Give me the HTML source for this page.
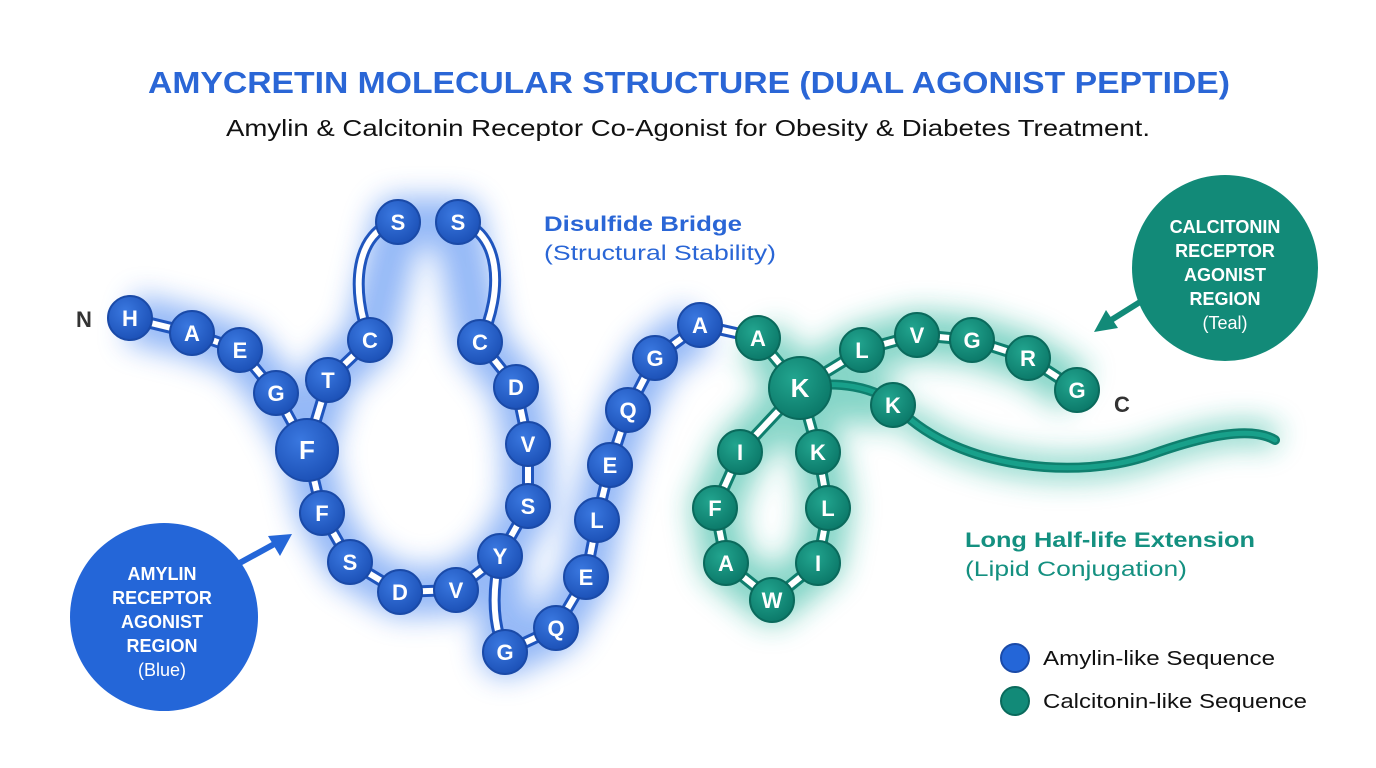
<!DOCTYPE html>
<html><head><meta charset="utf-8"><style>
html,body{margin:0;padding:0;background:#fff;width:1376px;height:768px;overflow:hidden}
svg{display:block}
</style></head><body>
<svg width="1376" height="768" viewBox="0 0 1376 768" font-family="Liberation Sans, sans-serif">
<defs>
<filter id="gb" x="-50%" y="-50%" width="200%" height="200%"><feGaussianBlur stdDeviation="14"/></filter>
<radialGradient id="bb" cx="40%" cy="35%" r="65%"><stop offset="0" stop-color="#3a78e0"/><stop offset="1" stop-color="#1d52b8"/></radialGradient>
<radialGradient id="tb" cx="40%" cy="35%" r="65%"><stop offset="0" stop-color="#22a58f"/><stop offset="1" stop-color="#0c7a6a"/></radialGradient>
</defs>
<text x="148" y="93" textLength="1082" lengthAdjust="spacingAndGlyphs" font-size="31" font-weight="bold" fill="#2a66d6">AMYCRETIN MOLECULAR STRUCTURE (DUAL AGONIST PEPTIDE)</text>
<text x="226" y="136" textLength="924" lengthAdjust="spacingAndGlyphs" font-size="23" fill="#111">Amylin &amp; Calcitonin Receptor Co-Agonist for Obesity &amp; Diabetes Treatment.</text>

<!-- glow -->
<g filter="url(#gb)" opacity="0.55">
<path d="M130,318 L192,333 L240,350 L276,393 L307,450 L322,513 L350,562 L400,592 L456,590 L500,556 L528,506 L528,444 L516,387 L480,342 L458,222 L398,222 L370,340 L328,380 L307,450 M500,556 L505,652 L556,628 L586,577 L597,520 L610,465 L628,410 L655,358 L700,325" stroke="#3d7ff0" stroke-width="50" fill="none" stroke-linejoin="round"/>
<path d="M758,338 L800,388 L740,452 L715,508 L726,563 L772,600 L818,563 L828,508 L818,452 L800,388 L862,350 L917,335 L972,340 L1028,358 L1077,390 M800,388 L893,405" stroke="#22b39a" stroke-width="50" fill="none" stroke-linejoin="round"/>
<path d="M900,410 C960,470 1080,480 1150,455 C1200,437 1250,425 1275,440" stroke="#22b39a" stroke-width="25" fill="none"/>
</g>

<!-- bonds -->
<g fill="none" stroke-linecap="round">
<g stroke="#1f55bd" stroke-width="12">
<path d="M130,318 L192,333 L240,350 L276,393 L307,450 L322,513 L350,562 L400,592 L456,590 L500,556 L528,506 L528,444 L516,387 L480,342"/>
<path d="M307,450 L328,380 L370,340 C350,290 355,230 398,222 M458,222 C500,230 505,290 480,342"/>
<path d="M500,556 C490,600 495,630 505,652 L556,628 L586,577 L597,520 L610,465 L628,410 L655,358 L700,325 L758,338"/>
</g>
<g stroke="#0f7f6e" stroke-width="12">
<path d="M758,338 L800,388 L740,452 L715,508 L726,563 L772,600 L818,563 L828,508 L818,452 L800,388 L862,350 L917,335 L972,340 L1028,358 L1077,390"/>
<path d="M800,388 C830,380 880,385 900,410 C960,470 1080,480 1150,455 C1200,437 1250,425 1275,440" stroke-width="10"/>
</g>
<g stroke="#fff" stroke-width="6">
<path d="M130,318 L192,333 L240,350 L276,393 L307,450 L322,513 L350,562 L400,592 L456,590 L500,556 L528,506 L528,444 L516,387 L480,342"/>
<path d="M307,450 L328,380 L370,340 C350,290 355,230 398,222 M458,222 C500,230 505,290 480,342"/>
<path d="M500,556 C490,600 495,630 505,652 L556,628 L586,577 L597,520 L610,465 L628,410 L655,358 L700,325 L758,338"/>
<path d="M758,338 L800,388 L740,452 L715,508 L726,563 L772,600 L818,563 L828,508 L818,452 L800,388 L862,350 L917,335 L972,340 L1028,358 L1077,390"/>
</g>
<path d="M800,388 C830,380 880,385 900,410 C960,470 1080,480 1150,455 C1200,437 1250,425 1275,440" stroke="#18a08a" stroke-width="5"/>
</g>

<!-- beads -->
<g font-size="22" font-weight="bold" fill="#fff" text-anchor="middle" stroke-width="2">
<g stroke="#1a4aa8">
<circle cx="130" cy="318" r="22" fill="url(#bb)"/><circle cx="192" cy="333" r="22" fill="url(#bb)"/>
<circle cx="240" cy="350" r="22" fill="url(#bb)"/><circle cx="276" cy="393" r="22" fill="url(#bb)"/>
<circle cx="307" cy="450" r="31" fill="url(#bb)"/><circle cx="328" cy="380" r="22" fill="url(#bb)"/>
<circle cx="370" cy="340" r="22" fill="url(#bb)"/><circle cx="398" cy="222" r="22" fill="url(#bb)"/>
<circle cx="458" cy="222" r="22" fill="url(#bb)"/><circle cx="480" cy="342" r="22" fill="url(#bb)"/>
<circle cx="516" cy="387" r="22" fill="url(#bb)"/><circle cx="528" cy="444" r="22" fill="url(#bb)"/>
<circle cx="528" cy="506" r="22" fill="url(#bb)"/><circle cx="500" cy="556" r="22" fill="url(#bb)"/>
<circle cx="456" cy="590" r="22" fill="url(#bb)"/><circle cx="400" cy="592" r="22" fill="url(#bb)"/>
<circle cx="350" cy="562" r="22" fill="url(#bb)"/><circle cx="322" cy="513" r="22" fill="url(#bb)"/>
<circle cx="505" cy="652" r="22" fill="url(#bb)"/><circle cx="556" cy="628" r="22" fill="url(#bb)"/>
<circle cx="586" cy="577" r="22" fill="url(#bb)"/><circle cx="597" cy="520" r="22" fill="url(#bb)"/>
<circle cx="610" cy="465" r="22" fill="url(#bb)"/><circle cx="628" cy="410" r="22" fill="url(#bb)"/>
<circle cx="655" cy="358" r="22" fill="url(#bb)"/><circle cx="700" cy="325" r="22" fill="url(#bb)"/>
</g>
<g stroke="#0a6a5c">
<circle cx="758" cy="338" r="22" fill="url(#tb)"/><circle cx="800" cy="388" r="31" fill="url(#tb)"/>
<circle cx="740" cy="452" r="22" fill="url(#tb)"/><circle cx="715" cy="508" r="22" fill="url(#tb)"/>
<circle cx="726" cy="563" r="22" fill="url(#tb)"/><circle cx="772" cy="600" r="22" fill="url(#tb)"/>
<circle cx="818" cy="563" r="22" fill="url(#tb)"/><circle cx="828" cy="508" r="22" fill="url(#tb)"/>
<circle cx="818" cy="452" r="22" fill="url(#tb)"/><circle cx="893" cy="405" r="22" fill="url(#tb)"/>
<circle cx="862" cy="350" r="22" fill="url(#tb)"/><circle cx="917" cy="335" r="22" fill="url(#tb)"/>
<circle cx="972" cy="340" r="22" fill="url(#tb)"/><circle cx="1028" cy="358" r="22" fill="url(#tb)"/>
<circle cx="1077" cy="390" r="22" fill="url(#tb)"/>
</g>
<g>
<text x="130" y="326">H</text><text x="192" y="341">A</text><text x="240" y="358">E</text><text x="276" y="401">G</text>
<text x="307" y="459" font-size="26">F</text><text x="328" y="388">T</text><text x="370" y="348">C</text>
<text x="398" y="230">S</text><text x="458" y="230">S</text><text x="480" y="350">C</text><text x="516" y="395">D</text>
<text x="528" y="452">V</text><text x="528" y="514">S</text><text x="500" y="564">Y</text><text x="456" y="598">V</text>
<text x="400" y="600">D</text><text x="350" y="570">S</text><text x="322" y="521">F</text>
<text x="505" y="660">G</text><text x="556" y="636">Q</text><text x="586" y="585">E</text><text x="597" y="528">L</text>
<text x="610" y="473">E</text><text x="628" y="418">Q</text><text x="655" y="366">G</text><text x="700" y="333">A</text>
<text x="758" y="346">A</text><text x="800" y="397" font-size="26">K</text><text x="740" y="460">I</text>
<text x="715" y="516">F</text><text x="726" y="571">A</text><text x="772" y="608">W</text><text x="818" y="571">I</text>
<text x="828" y="516">L</text><text x="818" y="460">K</text><text x="893" y="413">K</text><text x="862" y="358">L</text>
<text x="917" y="343">V</text><text x="972" y="348">G</text><text x="1028" y="366">R</text><text x="1077" y="398">G</text>
</g>
</g>

<text x="84" y="327" text-anchor="middle" font-size="22" font-weight="bold" fill="#333">N</text>
<text x="1122" y="412" text-anchor="middle" font-size="22" font-weight="bold" fill="#333">C</text>

<text x="544" y="231" textLength="198" lengthAdjust="spacingAndGlyphs" font-size="21" font-weight="bold" fill="#2a66d6">Disulfide Bridge</text>
<text x="544" y="260" textLength="232" lengthAdjust="spacingAndGlyphs" font-size="21" fill="#2a66d6">(Structural Stability)</text>

<text x="965" y="547" textLength="290" lengthAdjust="spacingAndGlyphs" font-size="21" font-weight="bold" fill="#149080">Long Half-life Extension</text>
<text x="965" y="576" textLength="222" lengthAdjust="spacingAndGlyphs" font-size="21" fill="#149080">(Lipid Conjugation)</text>

<!-- Amylin callout -->
<circle cx="164" cy="617" r="94" fill="#2466d8"/>
<line x1="236" y1="565" x2="278" y2="542" stroke="#2466d8" stroke-width="6"/>
<polygon points="292,534 268,536 280,556" fill="#2466d8"/>
<g font-size="18" font-weight="bold" fill="#fff" text-anchor="middle">
<text x="162" y="580">AMYLIN</text><text x="162" y="604">RECEPTOR</text><text x="162" y="628">AGONIST</text><text x="162" y="652">REGION</text>
<text x="162" y="676" font-weight="normal">(Blue)</text></g>

<!-- Calcitonin callout -->
<circle cx="1225" cy="268" r="93" fill="#128a78"/>
<line x1="1140" y1="302" x2="1108" y2="322" stroke="#128a78" stroke-width="6"/>
<polygon points="1094,332 1118,328 1106,310" fill="#128a78"/>
<g font-size="18" font-weight="bold" fill="#fff" text-anchor="middle">
<text x="1225" y="233">CALCITONIN</text><text x="1225" y="257">RECEPTOR</text><text x="1225" y="281">AGONIST</text><text x="1225" y="305">REGION</text>
<text x="1225" y="329" font-weight="normal">(Teal)</text></g>

<!-- legend -->
<circle cx="1015" cy="658" r="14" fill="#2466d8" stroke="#1a4aa8" stroke-width="2"/>
<text x="1043" y="665" textLength="232" lengthAdjust="spacingAndGlyphs" font-size="20" fill="#111">Amylin-like Sequence</text>
<circle cx="1015" cy="701" r="14" fill="#128a78" stroke="#0a6a5c" stroke-width="2"/>
<text x="1043" y="708" textLength="264" lengthAdjust="spacingAndGlyphs" font-size="20" fill="#111">Calcitonin-like Sequence</text>
</svg>
</body></html>
